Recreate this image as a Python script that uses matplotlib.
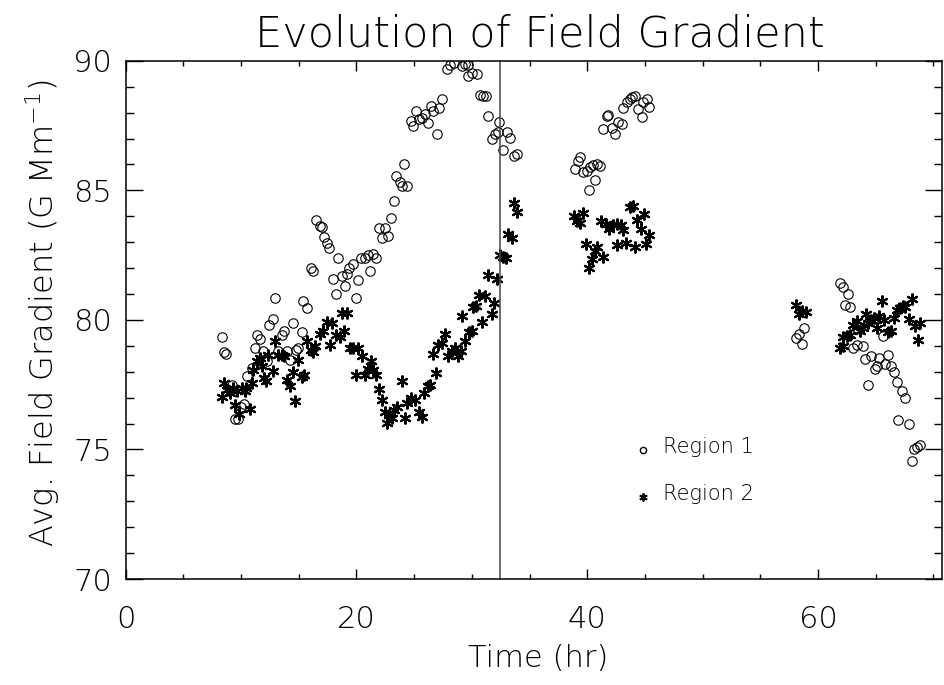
import numpy as np
import matplotlib
matplotlib.use("Agg")
import matplotlib.pyplot as plt
from matplotlib.ticker import MultipleLocator

# thin, wide font to look like the IDL vector font
plt.rcParams["font.family"] = ["DejaVu Sans"]
plt.rcParams["font.weight"] = 200
plt.rcParams["axes.titleweight"] = 200
plt.rcParams["axes.labelweight"] = 200
plt.rcParams["mathtext.fontset"] = "custom"
plt.rcParams["mathtext.rm"] = "DejaVu Sans:extralight"
plt.rcParams["mathtext.default"] = "rm"

# Region 1 (circles)
r1_time = [8.33, 8.48, 8.71, 9.2, 9.49, 9.69, 9.98, 10.21, 10.5, 10.93, 11.22, 11.42, 11.6, 11.94,
           12.24, 12.46, 12.75, 12.96, 13.24, 13.54, 13.74, 13.97, 14.25, 14.54, 14.77, 14.97, 15.27,
           15.4, 15.7, 16.05, 16.22, 16.51, 16.8, 16.97, 17.2, 17.43, 17.66, 17.95, 18.24, 18.44,
           18.73, 19.02, 19.17, 19.39, 19.74, 19.95, 20.17, 20.41, 20.75, 21.04, 21.19, 21.42, 21.71,
           21.91, 22.2, 22.49, 22.72, 22.98, 23.21, 23.44, 23.73, 23.93, 24.16, 24.37,
           24.71, 24.94, 25.17, 25.43, 25.67, 25.95, 26.24, 26.45, 26.67, 26.97, 27.19, 27.4, 27.83,
           28.12, 28.41, 29.13, 29.42, 29.7, 29.7, 30.0, 30.43, 30.72, 31.0, 31.24, 31.44, 32.39,
           31.73, 32.02, 32.3, 33.03, 33.32, 32.69, 33.67, 33.9,
           38.95, 39.24, 39.38, 39.67, 39.97, 40.25, 40.54, 40.83, 41.12, 40.68, 40.19,
           41.4, 41.7, 41.84, 42.13, 42.42, 42.7, 43.0, 43.13, 43.42, 43.7, 43.85, 44.13, 44.42,
           44.71, 44.85, 45.14, 45.37,
           58.1, 58.39, 58.8, 58.6,
           61.92, 62.15, 62.63, 62.35, 62.78, 63.07, 63.36, 63.88, 64.08, 64.37, 64.58, 64.95,
           65.15, 65.32, 65.62, 65.81, 66.1, 66.31, 66.54, 66.83, 66.97, 67.26, 67.55, 67.84,
           68.13, 68.33, 68.56, 68.85]
r1_grad = [79.33, 78.76, 78.68, 77.5, 76.18, 76.18, 76.62, 76.74, 77.85, 78.14, 78.91, 79.41, 79.28, 78.79,
           78.4, 79.82, 80.05, 80.85, 78.79, 79.43, 79.56, 78.79, 78.46, 79.88, 78.85, 78.91, 79.53,
           80.72, 80.47, 81.99, 81.89, 83.85, 83.63, 83.59, 83.18, 82.98, 82.77, 81.59, 81.0, 82.38,
           81.69, 81.29, 81.78, 81.99, 82.15, 80.85, 81.55, 82.38, 82.4, 82.51, 81.89, 82.53, 82.4,
           83.54, 83.15, 83.54, 83.22, 83.95, 84.6, 85.57, 85.31, 85.18, 86.02, 85.18,
           87.67, 87.47, 88.06, 87.77, 87.81, 87.93, 87.6, 88.24, 88.06, 87.19, 88.16, 88.54, 89.67,
           89.83, 89.92, 89.79, 89.87, 89.83, 89.41, 89.53, 89.48, 88.67, 88.63, 88.63, 87.86, 87.64,
           86.99, 87.16, 87.25, 87.25, 87.03, 86.57, 86.31, 86.41,
           85.83, 86.15, 86.28, 85.7, 85.76, 85.89, 85.96, 86.02, 85.92, 85.38, 85.02,
           87.38, 87.86, 87.9, 87.42, 87.16, 87.64, 87.57, 88.16, 88.41, 88.51, 88.6, 88.63, 88.12,
           87.83, 88.41, 88.54, 88.22,
           79.3, 79.46, 79.67, 79.07,
           81.43, 81.27, 80.98, 80.57, 80.49, 78.91, 79.02, 78.98, 78.5, 77.47, 78.59, 78.12,
           78.24, 78.53, 79.37, 78.29, 78.66, 78.24, 78.0, 77.62, 76.14, 77.26, 77.0, 75.97,
           74.55, 75.02, 75.1, 75.17]

# Region 2 (asterisks)
r2_time = [8.33, 8.48, 8.77, 9.06, 9.34, 9.49, 9.64, 9.86, 10.07, 10.36, 10.44, 10.79, 10.94, 11.07,
           11.37, 11.6, 11.8, 12.0, 12.18, 12.37, 12.75, 12.96, 13.24, 13.54, 13.74, 13.97, 14.25,
           14.49, 14.69, 14.97, 15.27, 15.47, 15.7, 16.05, 16.22, 16.42, 16.8, 17.14, 17.43, 17.72,
           17.87, 18.24, 18.53, 18.73, 18.93, 19.22, 19.45, 19.74, 20.09, 19.97, 20.47, 20.75, 21.04,
           21.25, 21.42, 21.71, 21.91, 22.2, 22.49, 22.63, 22.86, 23.07, 23.21, 23.5, 23.93, 24.22,
           24.37, 24.71, 25.09, 25.46, 25.67, 25.87, 26.24, 26.39, 26.67, 26.91, 27.1, 27.4, 27.69,
           27.97, 28.27, 28.55, 28.84, 29.05, 29.13, 29.42, 29.79, 30.0, 30.14, 30.37, 30.66, 30.87,
           31.15, 31.44, 31.73, 31.93, 32.17, 32.45, 32.74, 32.97, 33.17, 33.47, 33.67, 33.9,
           38.86, 39.15, 39.38, 39.67, 39.9, 40.19, 40.4, 40.68, 40.88, 41.4, 41.18, 41.64, 41.92,
           42.22, 42.57, 42.91, 43.13, 42.62, 43.37, 44.15, 45.1, 43.72, 43.95, 44.35, 44.64, 44.93,
           45.39,
           58.1, 58.39, 58.6, 58.97,
           61.92, 62.2, 62.15, 62.49, 62.78, 63.07, 63.36, 63.65, 63.88, 64.17, 64.37, 64.58, 64.86,
           65.1, 65.32, 65.55, 65.73, 66.1, 66.31, 66.6, 66.88, 67.12, 67.35, 67.55, 67.84, 68.13,
           68.42, 68.62, 68.85]
r2_grad = [77.04, 77.56, 77.3, 77.17, 77.36, 76.72, 77.24, 76.36, 77.39, 77.24, 77.36, 76.57, 77.56, 78.08,
           78.4, 78.53, 78.21, 77.75, 77.65, 78.63, 78.04, 79.2, 78.63, 78.63, 78.59, 77.69, 77.43,
           77.98, 76.88, 78.46, 77.78, 77.86, 79.17, 78.85, 78.76, 78.98, 79.46, 79.59, 79.92, 79.05,
           79.88, 79.43, 79.33, 80.27, 79.59, 80.27, 78.91, 78.91, 78.91, 77.88, 78.59, 77.88, 78.12,
           78.4, 78.08, 77.88, 77.34, 76.91, 76.43, 76.01, 76.33, 76.2, 76.53, 76.62, 77.65, 76.23,
           76.78, 76.98, 76.91, 76.46, 76.27, 77.17, 77.43, 77.5, 78.68, 77.95, 79.02, 79.11, 79.46,
           78.59, 78.79, 78.91, 78.59, 78.79, 80.14, 79.17, 79.53, 79.59, 80.49, 80.53, 80.96, 79.92,
           80.92, 81.72, 80.21, 80.66, 81.59, 82.51, 82.43, 82.38, 83.31, 83.15, 84.53, 84.15,
           84.02, 83.83, 83.72, 84.11, 82.92, 82.02, 82.34, 82.66, 82.82, 82.43, 83.83, 83.7, 83.5,
           83.67, 83.7, 83.67, 83.47, 82.9, 82.98, 82.82, 82.92, 84.37, 84.41, 83.85, 83.5, 84.09,
           83.28,
           80.57, 80.23, 80.34, 80.31,
           78.91, 78.98, 79.33, 79.37, 79.41, 79.79, 79.95, 79.59, 79.69, 80.23, 79.88, 79.98, 80.08,
           79.69, 80.14, 80.72, 80.01, 79.53, 79.56, 80.08, 80.37, 80.44, 80.53, 80.49, 80.05, 80.82,
           79.75, 79.23, 79.88]

t_mark = 32.45  # vertical marker line

asterisk = (6, 2, 0)

fig = plt.figure(figsize=(9.45, 6.85), dpi=100)
ax = fig.add_axes([0.1330, 0.1547, 0.8638, 0.7566])

ax.plot(r1_time, r1_grad, linestyle="none", marker="o", markersize=6.8,
        markerfacecolor="none", markeredgecolor="black", markeredgewidth=0.8)
ax.plot(r2_time, r2_grad, linestyle="none", marker=asterisk, markersize=8.5,
        color="black", markeredgewidth=1.5)
ax.axvline(t_mark, color="#444444", linewidth=1.1)

# legend drawn by hand like the IDL one
ax.plot([44.83], [74.98], linestyle="none", marker="o", markersize=4.5,
        markerfacecolor="none", markeredgecolor="black", markeredgewidth=1.0)
ax.plot([44.83], [73.17], linestyle="none", marker=asterisk, markersize=6,
        color="black", markeredgewidth=1.3)
ax.text(46.56, 75.09, "Region 1", fontsize=15, va="center", ha="left")
ax.text(46.56, 73.27, "Region 2", fontsize=15, va="center", ha="left")

ax.set_xlim(0, 70.74)
ax.set_ylim(70, 90)
ax.xaxis.set_major_locator(MultipleLocator(20))
ax.xaxis.set_minor_locator(MultipleLocator(5))
ax.yaxis.set_major_locator(MultipleLocator(5))
ax.yaxis.set_minor_locator(MultipleLocator(1))
ax.tick_params(which="both", direction="in", top=True, right=True, width=1.0, labelsize=22)
ax.tick_params(axis="x", which="major", length=7.2, pad=18.5)
ax.tick_params(axis="x", which="minor", length=3.4)
ax.tick_params(axis="y", which="major", length=12, pad=9.8)
ax.tick_params(axis="y", which="minor", length=6)
for s in ax.spines.values():
    s.set_linewidth(1.1)

ax.set_xlabel("Time (hr)", fontsize=22)
ax.xaxis.set_label_coords(0.5057, -0.1254)
ax.set_ylabel("Avg. Field Gradient (G Mm$^{-1}$)", fontsize=23)
ax.yaxis.set_label_coords(-0.0786, 0.513)
fig.text(0.5714, 0.9328, "Evolution of Field Gradient", fontsize=31,
         ha="center", va="baseline")

fig.savefig("out.png", dpi=100)
